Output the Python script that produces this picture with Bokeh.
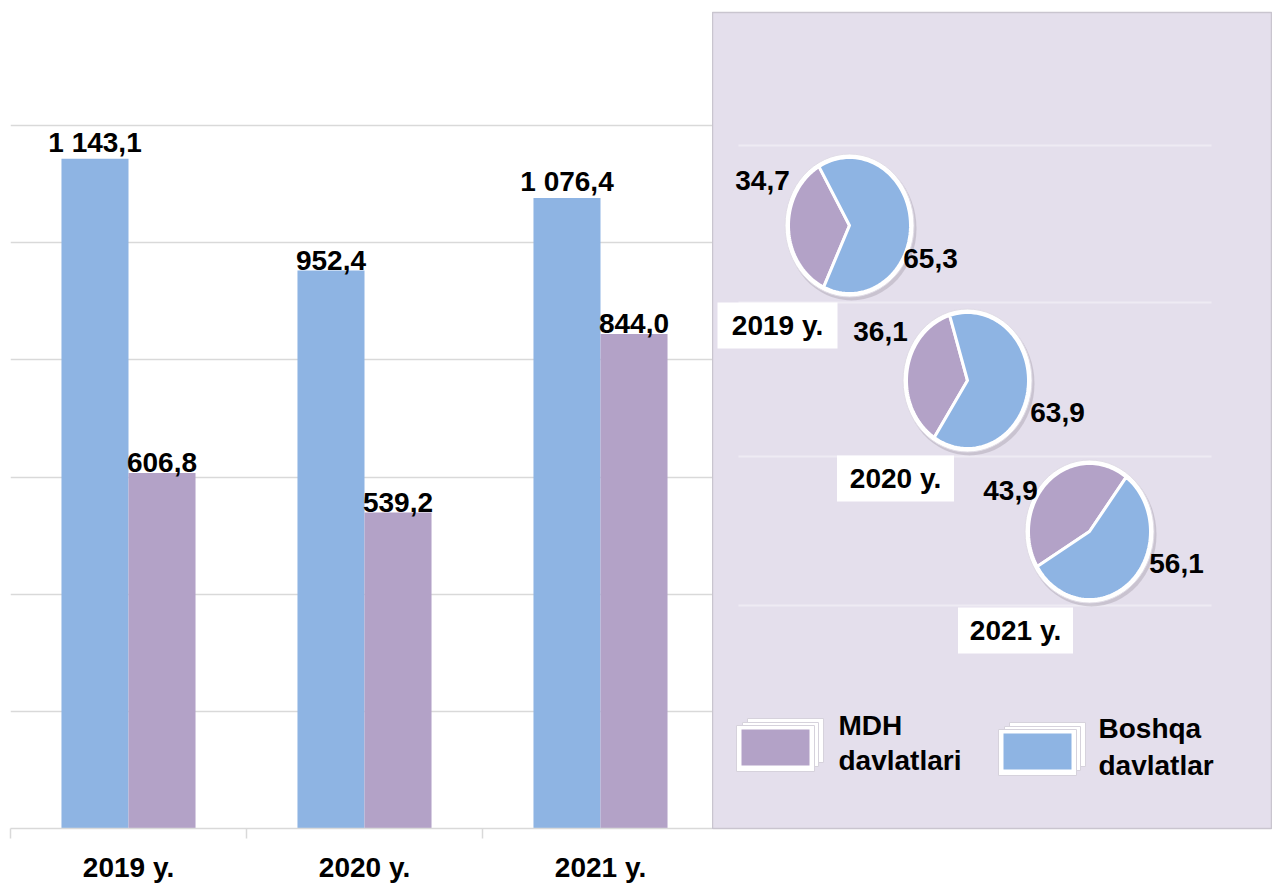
import numpy as np
from bokeh.plotting import figure
from bokeh.layouts import row
from bokeh.models import Range1d, FixedTicker
from bokeh.core.properties import value
from bokeh.embed import file_html
from bokeh.resources import INLINE

# ---------------- data ----------------
years = ["2019 y.", "2020 y.", "2021 y."]
boshqa = [1143.1, 952.4, 1076.4]      # Boshqa davlatlar
mdh = [606.8, 539.2, 844.0]           # MDH davlatlari
mdh_share = [34.7, 36.1, 43.9]        # %
boshqa_share = [65.3, 63.9, 56.1]     # %
grid_values = [200, 400, 600, 800, 1000, 1200]
legend_mdh = ["MDH", "davlatlari"]
legend_boshqa = ["Boshqa", "davlatlar"]

# ---------------- style ----------------
BLUE = "#8EB4E3"
PURPLE = "#B3A2C7"
PANEL = "#E4DFEC"
GRID = "#D9D9D9"
FONT_NAME = "Liberation Sans"
FONT = value(FONT_NAME)
FS = "28px"

H = 885
TOP = 12
BOTTOM = 57
BAR_W = 712
PANEL_W = 560
LEFT = 10
CAT_PX = 236
FRAME_H = H - TOP - BOTTOM
Y_END = 1200 * FRAME_H / 703.0


def fmt(v):
    return f"{v:,.1f}".replace(",", " ").replace(".", ",")


# ---------------- bar chart ----------------
p = figure(width=BAR_W, height=H,
           x_range=Range1d(0, (BAR_W - LEFT) / CAT_PX),
           y_range=Range1d(0, Y_END),
           output_backend="svg", toolbar_location=None,
           y_axis_location=None,
           min_border_left=LEFT, min_border_right=0,
           min_border_top=TOP, min_border_bottom=BOTTOM)
p.outline_line_color = None
p.background_fill_color = "white"
p.border_fill_color = "white"
p.xgrid.visible = False
p.ygrid.ticker = FixedTicker(ticks=grid_values)
p.ygrid.grid_line_color = GRID
p.ygrid.grid_line_width = 1.5

xi = np.arange(len(years)) + 0.5
bw = 0.284
p.vbar(x=xi - bw / 2, top=boshqa, width=bw, color=BLUE, line_color=None)
p.vbar(x=xi + bw / 2, top=mdh, width=bw, color=PURPLE, line_color=None)

p.text(x=list(xi - bw / 2), y=boshqa, text=[fmt(v) for v in boshqa],
       text_align="center", text_baseline="bottom", y_offset=-1,
       text_font=FONT, text_font_style="bold", text_font_size=FS,
       text_color="black")
p.text(x=list(xi + bw / 2), y=mdh, text=[fmt(v) for v in mdh],
       text_align="center", text_baseline="bottom", y_offset=-1,
       text_font=FONT, text_font_style="bold", text_font_size=FS,
       text_color="black")

ax = p.xaxis[0]
ax.ticker = FixedTicker(ticks=list(xi), minor_ticks=list(range(len(years) + 1)))
ax.major_label_overrides = {float(x): y for x, y in zip(xi, years)}
ax.axis_line_color = GRID
ax.axis_line_width = 1.5
ax.major_tick_line_color = None
ax.major_tick_out = 0
ax.major_tick_in = 0
ax.minor_tick_line_color = GRID
ax.minor_tick_line_width = 1.5
ax.minor_tick_out = 10
ax.minor_tick_in = 0
ax.major_label_standoff = 13
ax.major_label_text_font = FONT_NAME
ax.major_label_text_font_style = "bold"
ax.major_label_text_font_size = FS
ax.major_label_text_color = "black"

# ---------------- pie panel ----------------
q = figure(width=PANEL_W, height=H,
           x_range=Range1d(0, PANEL_W), y_range=Range1d(0, FRAME_H),
           output_backend="svg", toolbar_location=None,
           x_axis_location=None, y_axis_location=None,
           min_border_left=0, min_border_right=0,
           min_border_top=TOP, min_border_bottom=BOTTOM)
q.grid.visible = False
q.background_fill_color = PANEL
q.border_fill_color = "white"
q.outline_line_color = "#C9C5CF"
q.outline_line_width = 1.5

# light guide lines in the panel
line_y = [683, 526, 372, 223]
q.segment(x0=[26] * len(line_y), x1=[499] * len(line_y), y0=line_y, y1=line_y,
          line_color="#EEEBF3", line_width=2)

pie_cx = [137, 255, 377]
pie_cy = [603, 448, 297]
RX, RY = 61, 68
start_deg = [120, 107, 53]

# shadow + white base
q.ellipse(x=[c + 2 for c in pie_cx], y=[c - 3 for c in pie_cy],
          width=2 * RX + 8, height=2 * RY + 8,
          fill_color="#A8A2B0", fill_alpha=0.45, line_color=None)
q.ellipse(x=pie_cx, y=pie_cy, width=2 * RX + 7, height=2 * RY + 7,
          fill_color="white", line_color="#E0DCE6", line_width=1)


def slice_pts(cx, cy, a0, a1):
    t = np.radians(np.linspace(a0, a1, 80))
    xs = [cx] + list(cx + RX * np.cos(t))
    ys = [cy] + list(cy + RY * np.sin(t))
    return xs, ys


px_x, px_y, pc = [], [], []
for i in range(len(years)):
    a0 = start_deg[i]
    a1 = a0 + mdh_share[i] * 3.6
    a2 = a1 + boshqa_share[i] * 3.6
    xs, ys = slice_pts(pie_cx[i], pie_cy[i], a0, a1)
    px_x.append(xs); px_y.append(ys); pc.append(PURPLE)
    xs, ys = slice_pts(pie_cx[i], pie_cy[i], a1, a2)
    px_x.append(xs); px_y.append(ys); pc.append(BLUE)
q.patches(xs=px_x, ys=px_y, fill_color=pc, line_color="white", line_width=3,
          line_join="round")

# pie labels
mdh_lab_x = [50, 168, 298]
mdh_lab_y = [648, 497, 338]
bos_lab_x = [218, 345, 464]
bos_lab_y = [570, 416, 265]
q.text(x=mdh_lab_x, y=mdh_lab_y, text=[fmt(v) for v in mdh_share],
       text_align="center", text_baseline="middle",
       text_font=FONT, text_font_style="bold", text_font_size=FS, text_color="black")
q.text(x=bos_lab_x, y=bos_lab_y, text=[fmt(v) for v in boshqa_share],
       text_align="center", text_baseline="middle",
       text_font=FONT, text_font_style="bold", text_font_size=FS, text_color="black")

# year boxes
box_x = [65, 183, 303]
box_y = [503, 350, 198]
q.rect(x=box_x, y=box_y, width=[120, 117, 115], height=46,
       fill_color="white", line_color=None)
q.text(x=box_x, y=box_y, text=years, text_align="center", text_baseline="middle",
       text_font=FONT, text_font_style="bold", text_font_size=FS, text_color="black")

# legend
icon_x = [63, 325]
icon_y = [80, 76]
icon_col = [PURPLE, BLUE]
for k in (2, 1):
    q.rect(x=[x + 5 * k for x in icon_x], y=[y + 4 * k for y in icon_y],
           width=76, height=44, fill_color="white", line_color="#D6D2DC", line_width=1)
q.rect(x=icon_x, y=icon_y, width=78, height=46, fill_color="white",
       line_color="#D6D2DC", line_width=1)
q.rect(x=icon_x, y=[y + 1 for y in icon_y], width=68, height=36,
       fill_color=icon_col, line_color=None)

leg_tx = [126, 386]
q.text(x=leg_tx, y=[103, 100], text=[legend_mdh[0], legend_boshqa[0]],
       text_align="left", text_baseline="middle",
       text_font=FONT, text_font_style="bold", text_font_size=FS, text_color="black")
q.text(x=leg_tx, y=[68, 63], text=[legend_mdh[1], legend_boshqa[1]],
       text_align="left", text_baseline="middle",
       text_font=FONT, text_font_style="bold", text_font_size=FS, text_color="black")

layout = row(p, q, spacing=0)
open("out.html", "w").write(file_html(layout, INLINE))
